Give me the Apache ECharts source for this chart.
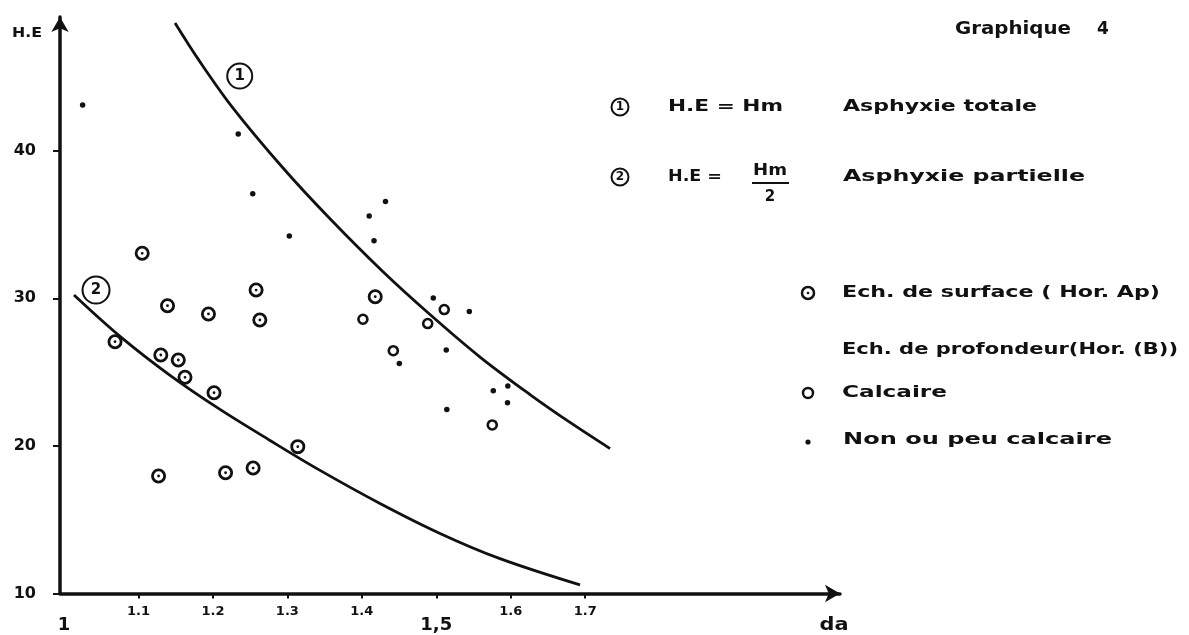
<!DOCTYPE html>
<html>
<head>
<meta charset="utf-8">
<script src="https://cdn.jsdelivr.net/npm/echarts@6/dist/echarts.min.js"></script>
<style>
html,body{margin:0;padding:0;background:#fff;}
#chart{width:1189px;height:635px;}
</style>
</head>
<body>
<div id="chart"></div>
<script>
// ---- data ----
const xTickValues = [1.1, 1.2, 1.3, 1.4, 1.5, 1.6, 1.7];
const xLabelValues = [1.1, 1.2, 1.3, 1.4, 1.6, 1.7];
const xLowerLabelValues = [1, 1.5];
const xLowerLabelTexts = ['1', '1,5'];
const yTickValues = [10, 20, 30, 40];

// Curve 1 : H.E = Hm (asphyxie totale)
const curveTotale = [[1.1491,48.66],[1.1827,46.02],[1.2270,42.89],[1.2942,38.83],[1.3573,35.39],[1.4285,31.80],[1.4916,28.90],[1.5588,26.02],[1.6259,23.48],[1.6797,21.59],[1.7334,19.82]];
// Curve 2 : H.E = Hm/2 (asphyxie partielle)
const curvePartielle = [[1.0134,30.22],[1.0752,27.42],[1.1424,24.78],[1.2095,22.47],[1.2767,20.37],[1.3439,18.34],[1.4244,16.10],[1.5050,14.07],[1.5856,12.36],[1.6931,10.58]];
// Circled curve numbers (data coordinates)
const curveNumberPos = [[1.236,45.06],[1.043,30.56]];

// Ech. de surface (Hor. Ap)
const surface = [[1.105,33.05],[1.258,30.56],[1.139,29.50],[1.194,28.94],[1.263,28.53],[1.0685,27.06],[1.130,26.16],[1.1535,25.82],[1.1625,24.65],[1.2015,23.60],[1.314,19.95],[1.127,17.96],[1.217,18.18],[1.254,18.50],[1.418,30.11]];
// Calcaire
const calcaire = [[1.4015,28.58],[1.5107,29.24],[1.4885,28.29],[1.4423,26.45],[1.5752,21.42]];
// Non ou peu calcaire
const nonCalcaire = [[1.025,43.10],[1.234,41.13],[1.2535,37.09],[1.3026,34.22],[1.4318,36.56],[1.4099,35.58],[1.4164,33.90],[1.496,30.02],[1.5444,29.11],[1.5134,26.50],[1.4504,25.58],[1.5766,23.74],[1.5961,24.06],[1.5957,22.93],[1.5142,22.47]];

// ---- drawing ----
const INK = '#111';
const FONT = '"DejaVu Sans", "Noto Sans", sans-serif';
const mctx = document.createElement('canvas').getContext('2d');
function fitText(str, x, y, targetW, size, weight, align) {
  mctx.font = (weight || 'bold') + ' ' + size + 'px ' + FONT;
  const w = mctx.measureText(str).width;
  const sx = targetW ? targetW / w : 1;
  return {
    type: 'text', x: x, y: y, scaleX: sx, silent: true,
    style: {
      text: str, x: 0, y: 0, fill: INK,
      font: (weight || 'bold') + ' ' + size + 'px ' + FONT,
      textAlign: align || 'left', textVerticalAlign: 'middle',
      align: align || 'left', verticalAlign: 'middle'
    }
  };
}
function ring(cx, cy, r, lw) {
  return {type:'circle', silent:true, shape:{cx:cx, cy:cy, r:r}, style:{fill:'#fff', stroke:INK, lineWidth:lw}};
}
function dot(cx, cy, r) {
  return {type:'circle', silent:true, shape:{cx:cx, cy:cy, r:r}, style:{fill:INK}};
}

const surfaceSymbol = 'path://M0,-75 A75,75 0 1,1 0,75 A75,75 0 1,1 0,-75 Z M0,-47 A47,47 0 1,0 0,47 A47,47 0 1,0 0,-47 Z M0,-14 A14,14 0 1,1 0,14 A14,14 0 1,1 0,-14 Z';

const graphics = [
  // axis names
  fitText('H.E', 27, 33, 30, 14, 'bold', 'center'),
  fitText('da', 834, 625, 29, 18, 'bold', 'center'),
  // title
  fitText('Graphique', 955, 30, 116, 17, 'bold', 'left'),
  fitText('4', 1103, 30, null, 17, 'bold', 'center'),
  // legend row 1
  ring(620, 107, 8.5, 2),
  fitText('1', 620, 107, null, 12, 'bold', 'center'),
  fitText('H.E = Hm', 668, 107, 115, 16, 'bold', 'left'),
  fitText('Asphyxie totale', 843, 107, 194, 16, 'bold', 'left'),
  // legend row 2
  ring(620, 177, 8.5, 2),
  fitText('2', 620, 177, null, 12, 'bold', 'center'),
  fitText('H.E =', 668, 177, 54, 16, 'bold', 'left'),
  fitText('Hm', 770, 171, 34, 16, 'bold', 'center'),
  {type:'line', silent:true, shape:{x1:752, y1:183, x2:789, y2:183}, style:{stroke:INK, lineWidth:2}},
  fitText('2', 770, 197, null, 15, 'bold', 'center'),
  fitText('Asphyxie partielle', 843, 177, 242, 16, 'bold', 'left'),
  // legend row 3: surface
  ring(808, 293, 6, 2.5), dot(808, 293, 1.3),
  fitText('Ech. de surface ( Hor. Ap)', 842, 293, 318, 16, 'bold', 'left'),
  // legend row 4
  fitText('Ech. de profondeur(Hor. (B))', 842, 350, 336, 16, 'bold', 'left'),
  // legend row 5: calcaire
  ring(808, 393, 5, 2.5),
  fitText('Calcaire', 842, 393, 105, 16, 'bold', 'left'),
  // legend row 6: non calcaire
  dot(808, 442, 2.6),
  fitText('Non ou peu calcaire', 843, 440, 269, 16, 'bold', 'left')
];

const X_MIN = 0.9946, X_MAX = 2.0423, Y_MIN = 10, Y_MAX = 49.06;

const option = {
  backgroundColor: '#fff',
  animation: false,
  grid: {left: 60, right: 349, top: 17, bottom: 41.5, containLabel: false, outerBoundsMode: 'none'},
  xAxis: [{
    type: 'value', min: X_MIN, max: X_MAX,
    axisLine: {show: true, symbol: ['none', 'arrow'], symbolSize: [13, 15], lineStyle: {color: INK, width: 3.5}},
    axisTick: {show: true, customValues: xTickValues, length: 5, lineStyle: {color: INK, width: 2}},
    axisLabel: {customValues: xLabelValues, margin: 12, color: INK, fontFamily: FONT, fontWeight: 'bold', fontSize: 13,
      formatter: v => v.toFixed(1)},
    splitLine: {show: false}
  }, {
    type: 'value', min: X_MIN, max: X_MAX, position: 'bottom', gridIndex: 0,
    axisLine: {show: false}, axisTick: {show: false}, splitLine: {show: false},
    axisLabel: {customValues: xLowerLabelValues, margin: 23, color: INK, fontFamily: FONT, fontWeight: 'bold', fontSize: 18,
      formatter: v => xLowerLabelTexts[xLowerLabelValues.indexOf(v)] || ''}
  }],
  yAxis: {
    type: 'value', min: Y_MIN, max: Y_MAX,
    axisLine: {show: true, symbol: ['none', 'arrow'], symbolSize: [13, 15], lineStyle: {color: INK, width: 3.5}},
    axisTick: {show: true, customValues: yTickValues, length: 7, lineStyle: {color: INK, width: 2}},
    axisLabel: {customValues: yTickValues, margin: 24, color: INK, fontFamily: FONT, fontWeight: 'bold', fontSize: 16},
    splitLine: {show: false}
  },
  graphic: graphics,
  series: [
    {
      name: 'H.E = Hm (Asphyxie totale)', type: 'line', data: curveTotale, smooth: 0.35,
      showSymbol: false, symbol: 'none', lineStyle: {color: INK, width: 2.8}, z: 2,
      markPoint: {
        symbol: 'circle', symbolSize: 25,
        itemStyle: {color: '#fff', borderColor: INK, borderWidth: 2},
        label: {show: true, position: 'inside', color: INK, fontWeight: 'bold', fontSize: 15, fontFamily: FONT, formatter: '1'},
        data: [{coord: curveNumberPos[0]}]
      }
    },
    {
      name: 'H.E = Hm/2 (Asphyxie partielle)', type: 'line', data: curvePartielle, smooth: 0.35,
      showSymbol: false, symbol: 'none', lineStyle: {color: INK, width: 2.8}, z: 2,
      markPoint: {
        symbol: 'circle', symbolSize: 27,
        itemStyle: {color: '#fff', borderColor: INK, borderWidth: 2},
        label: {show: true, position: 'inside', color: INK, fontWeight: 'bold', fontSize: 15, fontFamily: FONT, formatter: '2'},
        data: [{coord: curveNumberPos[1]}]
      }
    },
    {
      name: 'Ech. de surface (Hor. Ap)', type: 'scatter', data: surface,
      symbol: surfaceSymbol, symbolSize: 15, itemStyle: {color: INK, opacity: 1}, z: 5
    },
    {
      name: 'Calcaire', type: 'scatter', data: calcaire,
      symbol: 'circle', symbolSize: 9, itemStyle: {color: '#fff', borderColor: INK, borderWidth: 2.6, opacity: 1}, z: 5
    },
    {
      name: 'Non ou peu calcaire', type: 'scatter', data: nonCalcaire,
      symbol: 'circle', symbolSize: 5.5, itemStyle: {color: INK, opacity: 1}, z: 5
    }
  ]
};

const chart = echarts.init(document.getElementById('chart'), null, {renderer: 'canvas'});
chart.setOption(option);
</script>
</body>
</html>
